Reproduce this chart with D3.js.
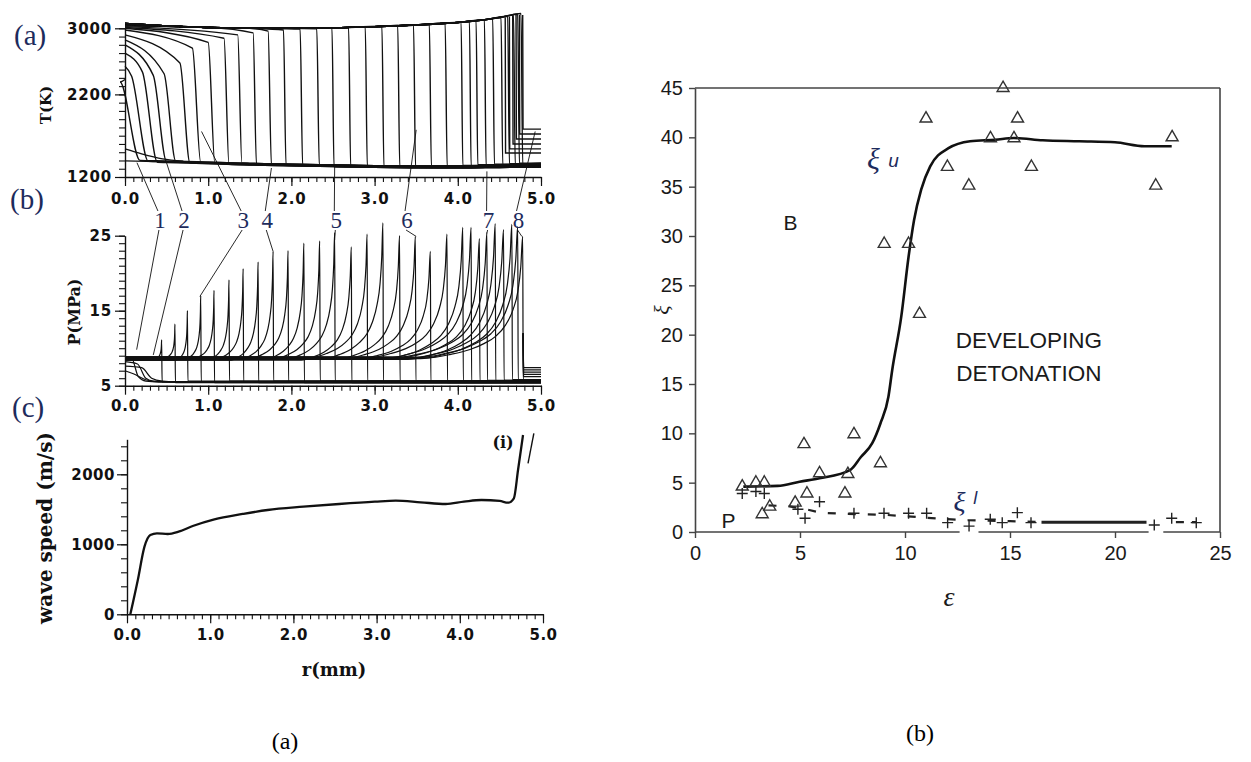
<!DOCTYPE html>
<html lang="en">
<head>
<meta charset="UTF-8" />
<title>Flame profiles and detonation regimes</title>
<style>
  body { margin: 0; background: #fff; }
  svg { display: block; }
</style>
<script src="https://d3js.org/d3.v7.min.js"></script>
</head>
<body>
<script>
// ---------- (a) temperature profiles: one curve per time step ----------
const tFront = [0.06, 0.18, 0.30, 0.42, 0.54, 0.72, 0.86, 1.04, 1.22, 1.38, 1.56, 1.74, 1.92, 2.12, 2.32, 2.50, 2.70,
                2.90, 3.10, 3.29, 3.48, 3.67, 3.86, 4.05, 4.15, 4.23, 4.33, 4.43, 4.53, 4.61, 4.68, 4.73, 4.77];
const tStart = [2380, 2540, 2700, 2800, 2860, 2920, 2980, 3000, 3010, 3020, 3030, 3035, 3040, 3040, 3045, 3045, 3050,
                3050, 3050, 3050, 3055, 3055, 3055, 3060, 3060, 3060, 3060, 3060, 3060, 3060, 3060, 3060, 3060];
const tTop   = [2350, 2420, 2470, 2430, 2450, 2580, 2760, 2830, 2880, 2920, 2945, 2965, 2980, 2990, 2995, 3000, 3005,
                3015, 3025, 3035, 3045, 3055, 3065, 3075, 3085, 3095, 3105, 3115, 3130, 3145, 3160, 3170, 3180];
const tDrop  = [0.12, 0.10, 0.09, 0.08, 0.07, 0.06, 0.05, 0.04, 0.03, 0.025, 0.02, 0.02, 0.015, 0.015, 0.015, 0.012, 0.012,
                0.012, 0.012, 0.012, 0.012, 0.012, 0.012, 0.01, 0.01, 0.01, 0.01, 0.01, 0.01, 0.01, 0.01, 0.01, 0.01];
const tLift  = [10, 0, -10, 0, 10, -5, 5, 0, -10, 10, 0, -5, 5, 0, 10, -10, 0, 5, -5, 10, 0, 15, 5, 20, 10, 25, 15,
                30, 20, 35, 25, 40, 30];
// upper envelope of the burnt gas and the unburnt baseline
const envR  = [1.0, 1.5, 2.0, 2.5, 3.0, 3.5, 4.0, 4.3, 4.5, 4.7];
const envT  = [3010, 3000, 3000, 3005, 3020, 3040, 3070, 3100, 3130, 3170];
const tBaseR = [0, 0.5, 1, 1.5, 2, 2.5, 3, 3.5, 4, 4.5, 5];
const tBaseT = [1395, 1385, 1370, 1355, 1345, 1335, 1328, 1322, 1320, 1325, 1330];
const tInitR = [0, 0.2, 0.45, 0.7];
const tInitT = [1540, 1480, 1420, 1392];
// late profiles with shocked unburnt gas (steps at the right edge)
const tPostR = [4.57, 4.62, 4.66, 4.70, 4.74, 4.78];
const tPostT = [1490, 1540, 1600, 1660, 1720, 1780];

// ---------- (b) pressure profiles ----------
const pFront = [0.44, 0.60, 0.75, 0.91, 1.07, 1.25, 1.42, 1.60, 1.78, 1.96, 2.15, 2.34, 2.52, 2.72, 2.91, 3.10, 3.30,
                3.49, 3.67, 3.87, 4.06, 4.16, 4.26, 4.35, 4.45, 4.55, 4.65, 4.72, 4.78];
const pPeak  = [11.1, 13.2, 15.0, 17.0, 17.7, 19.1, 20.6, 21.5, 22.9, 23.0, 24.0, 24.3, 25.4, 23.5, 25.2, 26.7, 25.0,
                24.9, 22.9, 25.2, 26.1, 26.1, 24.6, 25.4, 26.6, 25.8, 26.5, 26.2, 24.9];
const pRise  = [0.10, 0.12, 0.14, 0.17, 0.20, 0.24, 0.28, 0.32, 0.36, 0.40, 0.45, 0.50, 0.55, 0.60, 0.65, 0.70, 0.75,
                0.80, 0.85, 0.90, 0.95, 1.00, 1.00, 1.05, 1.05, 1.10, 1.10, 1.15, 1.15];
const pBase  = [8.5, 8.7, 8.4, 8.6, 8.8, 8.5, 8.7, 8.4, 8.6, 8.8, 8.5, 8.7, 8.6, 8.4, 8.8, 8.6, 8.5, 8.7, 8.6, 8.8,
                8.5, 8.7, 8.6, 8.8, 8.5, 8.7, 8.6, 8.8, 8.7];
const pFoot  = [5.5, 5.4, 5.6, 5.5, 5.4, 5.6, 5.5, 5.4, 5.6, 5.5, 5.4, 5.6, 5.5, 5.4, 5.6, 5.5, 5.4, 5.6, 5.5, 5.4,
                5.6, 5.5, 5.6, 5.7, 5.6, 5.7, 5.8, 5.7, 5.8];
// normalised shape of the pressure rise behind a front (distance/width, fraction of jump)
const pShapeU = [1, 0.75, 0.55, 0.4, 0.28, 0.18, 0.1, 0.05, 0.02, 0];
const pShapeV = [0, 0.03, 0.07, 0.12, 0.18, 0.27, 0.4, 0.55, 0.75, 1];
// earliest profiles, before any spike
const pEarly = [
  [[0, 8.9], [0.08, 8.7], [0.16, 6.2], [0.25, 5.6], [0.4, 5.5]],
  [[0, 8.2], [0.15, 7.9], [0.25, 6.0], [0.35, 5.6], [0.5, 5.5]],
  [[0, 7.6], [0.2, 7.4], [0.32, 6.0], [0.45, 5.6], [0.6, 5.5]],
  [[0, 7.0], [0.1, 6.6], [0.25, 5.8], [0.4, 5.5]]
];
const pPost = [7.4, 7.1, 6.8, 6.5, 6.2];

// ---------- numbered leaders between (a) and (b) ----------
const leadNum = ["1", "2", "3", "4", "5", "6", "7", "8"];
const leadR   = [0.42, 0.71, 1.42, 1.71, 2.54, 3.39, 4.37, 4.73];
const leadTR  = [0.144, 0.50, 0.92, 1.76, 2.52, 3.50, 4.35, 4.93];
const leadTT  = [1373, 1370, 1751, 1309, 1325, 1771, 1268, 1751];
const leadPR  = [0.14, 0.34, 0.90, 1.78, 2.52, 3.50, 4.35, 4.77];
const leadPP  = [9.8, 9.1, 16.9, 22.9, 24.4, 24.9, 25.3, 24.9];

// ---------- (c) wave speed ----------
const wsR = [0.04, 0.13, 0.21, 0.28, 0.36, 0.49, 0.62, 0.79, 1.05, 1.39, 1.69, 2.12, 2.55, 2.98, 3.23, 3.53, 3.83,
             4.05, 4.26, 4.48, 4.58, 4.65, 4.70, 4.76];
const wsV = [0, 490, 966, 1133, 1157, 1147, 1180, 1261, 1357, 1433, 1490, 1537, 1576, 1609, 1623, 1600, 1576,
             1609, 1633, 1619, 1594, 1657, 2061, 2561];
const wsTailR = [4.82, 4.89];
const wsTailV = [2157, 2586];

// ---------- right chart: xi vs epsilon ----------
const triE = [14.67, 11.0, 15.36, 14.07, 15.19, 22.72, 12.02, 16.02, 13.04, 21.94, 9.01, 10.17, 10.69,
              5.19, 7.57, 8.83, 5.93, 7.28, 2.25, 2.9, 3.3, 5.33, 7.14, 4.77, 3.56, 3.2];
const triX = [45.0, 41.9, 41.9, 39.9, 39.9, 40.0, 37.0, 37.0, 35.1, 35.1, 29.2, 29.2, 22.1,
              8.9, 9.9, 6.97, 5.95, 5.88, 4.6, 5.0, 5.0, 3.9, 3.9, 2.97, 2.57, 1.8];
const crossE = [2.25, 3.3, 2.9, 5.93, 5.24, 4.9, 7.57, 9.0, 10.17, 11.03, 12.03, 13.05, 14.06, 14.63, 15.35, 16.0,
                21.87, 22.7, 23.87];
const crossX = [3.9, 3.9, 4.1, 3.07, 1.39, 2.3, 1.9, 1.9, 1.9, 1.9, 0.95, 0.6, 1.29, 0.95, 1.96, 0.95,
                0.71, 1.39, 0.95];
const xiUE = [2.3, 3.94, 4.98, 5.93, 7.4, 7.9, 8.44, 8.83, 9.21, 9.39, 9.82, 10.17, 10.43, 10.77, 11.2, 12.07,
              13.1, 14.3, 15.18, 16.56, 18.3, 20.0, 21.4, 22.7];
const xiUX = [4.6, 4.67, 5.1, 5.44, 6.3, 7.6, 9.0, 11.0, 13.7, 16.4, 21.8, 27.9, 31.6, 34.7, 37.05, 38.9,
              39.6, 39.76, 39.93, 39.7, 39.6, 39.5, 39.1, 39.1];
const xiLE = [3.5, 4.5, 5.3, 6.0, 7.0, 8.0, 9.0, 10.0, 11.0, 12.0, 13.0, 14.0, 15.0, 16.5];
const xiLX = [2.7, 2.6, 2.3, 1.95, 1.85, 1.8, 1.75, 1.6, 1.45, 1.3, 1.2, 1.15, 1.1, 1.0];
const xiLSolidE = [16.5, 21.5];
const xiLTailE = [22.9, 23.9];
const xiLLevel = 1.0;
const axisSegs = [[0, 12.6], [13.5, 21.6], [22.3, 25]];

const W = 1251, H = 762;
const svg = d3.select("body").append("svg").attr("width", W).attr("height", H);
svg.append("rect").attr("width", W).attr("height", H).attr("fill", "#fff");

const xL = d3.scaleLinear().domain([0, 5]).range([125, 541]);
const yT = d3.scaleLinear().domain([1200, 3000]).range([177, 28.3]);
const yP = d3.scaleLinear().domain([5, 25]).range([385.7, 235.7]);
const xC = d3.scaleLinear().domain([0, 5]).range([127, 543]);
const yC = d3.scaleLinear().domain([0, 2500]).range([614.3, 439.3]);
const xR = d3.scaleLinear().domain([0, 25]).range([695, 1220]);
const yR = d3.scaleLinear().domain([0, 45]).range([532, 88]);

const ink = "#111";
const navy = "#1d2b5c";
const sans = "'DejaVu Sans', sans-serif";
const serif = "'Liberation Serif', 'Times New Roman', serif";
const arial = "'Liberation Sans', Arial, sans-serif";

const rMinor = d3.range(0, 51).map(i => i / 10);
const rMajor = [0, 1, 2, 3, 4, 5];

function leftAxes(xs, ys, yMinor, yMajor, st) {
  const bottom = ys.range()[0], left = xs.range()[0];
  svg.append("g").attr("transform", `translate(0,${bottom})`)
    .call(d3.axisBottom(xs).tickValues(rMinor).tickSize(5).tickSizeOuter(0).tickFormat(""))
    .call(g => g.select(".domain").remove())
    .call(g => g.selectAll("line").attr("stroke", ink).attr("stroke-width", 1.1));
  const gx = svg.append("g").attr("transform", `translate(0,${bottom})`)
    .call(d3.axisBottom(xs).tickValues(rMajor).tickSize(9).tickSizeOuter(0)
      .tickPadding(st.xPad).tickFormat(d3.format(".1f")));
  svg.append("g").attr("transform", `translate(${left},0)`)
    .call(d3.axisLeft(ys).tickValues(yMinor).tickSize(6).tickSizeOuter(0).tickFormat(""))
    .call(g => g.select(".domain").remove())
    .call(g => g.selectAll("line").attr("stroke", ink).attr("stroke-width", 1.1));
  const gy = svg.append("g").attr("transform", `translate(${left},0)`)
    .call(d3.axisLeft(ys).tickValues(yMajor).tickSize(10).tickSizeOuter(0)
      .tickPadding(st.yPad).tickFormat(st.yFmt));
  [gx, gy].forEach(g => {
    g.select(".domain").attr("stroke", ink).attr("stroke-width", 1.4);
    g.selectAll(".tick line").attr("stroke", ink).attr("stroke-width", 1.2);
    g.selectAll(".tick text").attr("font-family", sans).attr("font-size", st.size)
      .attr("font-weight", "bold").attr("letter-spacing", st.ls).attr("fill", ink);
  });
}

// ---------------- (a) temperature ----------------
const base = d3.scaleLinear().domain(tBaseR).range(tBaseT);
const env = d3.scaleLinear().domain(envR).range(envT).clamp(true);
const lineT = d3.line().x(d => xL(d[0])).y(d => yT(d[1])).curve(d3.curveMonotoneX);
const gT = svg.append("g").attr("fill", "none").attr("stroke", ink).attr("stroke-width", 1.4);

gT.append("path").attr("d", lineT(tBaseR.map((r, i) => [r, tBaseT[i]])));
gT.append("path").attr("d", lineT(tInitR.map((r, i) => [r, tInitT[i]])));

tFront.forEach((f, i) => {
  const d = tDrop[i], lift = tLift[i];
  const pts = [[0, tStart[i]]];
  if (f > 1.5) envR.filter(r => r < f - 0.12).forEach(r => pts.push([r, env(r)]));
  pts.push([f - d, tTop[i]]);
  pts.push([f + d, base(f + d) + lift]);
  tBaseR.filter(r => r > f + d + 0.05).forEach(r => pts.push([r, base(r) + lift]));
  gT.append("path").attr("d", lineT(pts));
});

tPostR.forEach((r, i) => {
  gT.append("path").attr("d", d3.line().x(d => xL(d[0])).y(d => yT(d[1]))(
    [[r, env(r) - 10], [r + 0.004, tPostT[i]], [5, tPostT[i]]]));
});

leftAxes(xL, yT, d3.range(1200, 3001, 100), [1200, 2200, 3000],
  { xPad: 7, yPad: 3, size: 15, ls: 0.8, yFmt: d3.format("d") });

// ---------------- (b) pressure ----------------
const lineP = d3.line().x(d => xL(d[0])).y(d => yP(d[1])).curve(d3.curveMonotoneX);
const gP = svg.append("g").attr("fill", "none").attr("stroke", ink).attr("stroke-width", 1.2);

pEarly.forEach(c => gP.append("path").attr("d", lineP(c.concat([[5, 5.5]]))));

pFront.forEach((f, i) => {
  const w = pRise[i];
  const pts = [[0, pBase[i]]];
  pShapeU.forEach((u, k) => pts.push([f - u * w, pBase[i] + pShapeV[k] * (pPeak[i] - pBase[i])]));
  pts.push([f + 0.006, pFoot[i]], [5, pFoot[i]]);
  gP.append("path").attr("d", lineP(pts));
});

pPost.forEach(v => {
  gP.append("path").attr("d", d3.line().x(d => xL(d[0])).y(d => yP(d[1]))(
    [[4.785, 12], [4.79, v], [5, v]]));
});

leftAxes(xL, yP, d3.range(5, 26, 1), [5, 15, 25],
  { xPad: 6, yPad: 3, size: 15, ls: 0.8, yFmt: d3.format("d") });

// ---------------- leaders 1..8 ----------------
const gLead = svg.append("g");
leadNum.forEach((n, i) => {
  const lx = xL(leadR[i]);
  gLead.append("line").attr("x1", lx - 2).attr("y1", 211)
    .attr("x2", xL(leadTR[i])).attr("y2", yT(leadTT[i]))
    .attr("stroke", ink).attr("stroke-width", 0.9);
  gLead.append("line").attr("x1", lx - 1).attr("y1", 230)
    .attr("x2", xL(leadPR[i])).attr("y2", yP(leadPP[i]))
    .attr("stroke", ink).attr("stroke-width", 0.9);
  gLead.append("text").attr("x", lx).attr("y", 228).attr("text-anchor", "middle")
    .attr("font-family", serif).attr("font-size", 23).attr("fill", navy).text(n);
});

// ---------------- (c) wave speed ----------------
const lineC = d3.line().x(d => xC(d[0])).y(d => yC(d[1])).curve(d3.curveMonotoneX);
svg.append("path").attr("d", lineC(wsR.map((r, i) => [r, wsV[i]])))
  .attr("fill", "none").attr("stroke", ink).attr("stroke-width", 2.3);
svg.append("path").attr("d", d3.line().x(d => xC(d[0])).y(d => yC(d[1]))(wsTailR.map((r, i) => [r, wsTailV[i]])))
  .attr("fill", "none").attr("stroke", ink).attr("stroke-width", 1.4);
svg.append("text").attr("x", xC(4.52)).attr("y", yC(2466) + 6).attr("text-anchor", "middle")
  .attr("font-family", "'DejaVu Serif', serif").attr("font-weight", "bold").attr("font-size", 16)
  .attr("fill", ink).text("(i)");

leftAxes(xC, yC, d3.range(0, 2401, 200), [0, 1000, 2000],
  { xPad: 6, yPad: 2, size: 15, ls: 0.5, yFmt: d3.format("d") });

// axis titles on the left
svg.append("text").attr("transform", "translate(51,105) rotate(-90)").attr("text-anchor", "middle")
  .attr("font-family", "'DejaVu Serif', serif").attr("font-weight", "bold").attr("font-size", 15)
  .attr("fill", ink).text("T(K)");
svg.append("text").attr("transform", "translate(80,312) rotate(-90)").attr("text-anchor", "middle")
  .attr("font-family", "'DejaVu Serif', serif").attr("font-weight", "bold").attr("font-size", 16)
  .attr("fill", ink).text("P(MPa)");
svg.append("text").attr("transform", "translate(52,528) rotate(-90)").attr("text-anchor", "middle")
  .attr("font-family", "'DejaVu Serif', serif").attr("font-weight", "bold").attr("font-size", 20)
  .attr("fill", ink).text("wave speed (m/s)");
svg.append("text").attr("x", 334).attr("y", 676).attr("text-anchor", "middle")
  .attr("font-family", "'DejaVu Serif', serif").attr("font-weight", "bold").attr("font-size", 18)
  .attr("fill", ink).text("r(mm)");

[["(a)", 14, 45], ["(b)", 10, 209], ["(c)", 12, 417]].forEach(([t, x, y]) => {
  svg.append("text").attr("x", x).attr("y", y).attr("font-family", serif).attr("font-size", 29)
    .attr("fill", navy).text(t);
});

// ---------------- right chart ----------------
const gR = svg.append("g");
const frame = "#444";
gR.append("g").attr("transform", `translate(${xR(0)},0)`)
  .call(d3.axisLeft(yR).tickValues(d3.range(0, 46, 5)).tickSize(6).tickSizeOuter(0).tickPadding(6))
  .call(g => {
    g.select(".domain").attr("stroke", frame).attr("stroke-width", 1.6);
    g.selectAll(".tick line").attr("stroke", frame).attr("stroke-width", 1.4);
    g.selectAll(".tick text").attr("font-family", arial).attr("font-size", 20).attr("fill", "#1a1a1a");
  });
gR.append("g").attr("transform", `translate(0,${yR(0)})`)
  .call(d3.axisBottom(xR).tickValues(d3.range(0, 26, 5)).tickSize(6).tickSizeOuter(0).tickPadding(8))
  .call(g => {
    g.select(".domain").remove();
    g.selectAll(".tick line").attr("stroke", frame).attr("stroke-width", 1.4);
    g.selectAll(".tick text").attr("font-family", arial).attr("font-size", 20).attr("fill", "#1a1a1a");
  });
axisSegs.forEach(s => gR.append("line").attr("x1", xR(s[0])).attr("x2", xR(s[1]))
  .attr("y1", yR(0)).attr("y2", yR(0)).attr("stroke", frame).attr("stroke-width", 1.6));
gR.append("line").attr("x1", xR(0)).attr("x2", xR(25)).attr("y1", yR(45)).attr("y2", yR(45))
  .attr("stroke", frame).attr("stroke-width", 1.6);
gR.append("line").attr("x1", xR(25)).attr("x2", xR(25)).attr("y1", yR(45)).attr("y2", yR(0))
  .attr("stroke", frame).attr("stroke-width", 1.6);

// xi_l dashed line and its solid part
const lineR = d3.line().x(d => xR(d[0])).y(d => yR(d[1]));
gR.append("path").attr("d", lineR(xiLE.map((e, i) => [e, xiLX[i]])))
  .attr("fill", "none").attr("stroke", "#222").attr("stroke-width", 2.2).attr("stroke-dasharray", "8,12");
gR.append("path").attr("d", lineR(xiLSolidE.map(e => [e, xiLLevel])))
  .attr("fill", "none").attr("stroke", "#222").attr("stroke-width", 3);
gR.append("path").attr("d", lineR(xiLTailE.map(e => [e, xiLLevel])))
  .attr("fill", "none").attr("stroke", "#222").attr("stroke-width", 2.2).attr("stroke-dasharray", "8,8");

// xi_u curve
gR.append("path").attr("d", lineR.curve(d3.curveMonotoneX)(xiUE.map((e, i) => [e, xiUX[i]])))
  .attr("fill", "none").attr("stroke", ink).attr("stroke-width", 2.6);

// markers
gR.selectAll("path.tri").data(triE).join("path").attr("class", "tri")
  .attr("transform", (e, i) => `translate(${xR(e)},${yR(triX[i])})`)
  .attr("d", d3.symbol(d3.symbolTriangle, 62))
  .attr("fill", "none").attr("stroke", "#333").attr("stroke-width", 1.4);
gR.selectAll("path.cross").data(crossE).join("path").attr("class", "cross")
  .attr("d", (e, i) => {
    const cx = xR(e), cy = yR(crossX[i]);
    return `M${cx - 5.5},${cy}H${cx + 5.5}M${cx},${cy - 5.5}V${cy + 5.5}`;
  })
  .attr("fill", "none").attr("stroke", "#222").attr("stroke-width", 1.4);

// labels inside the right chart
const txt = (x, y, s, font, size, extra) => {
  const t = gR.append("text").attr("x", x).attr("y", y).attr("font-family", font)
    .attr("font-size", size).attr("fill", "#1a1a1a").attr("text-anchor", "middle").text(s);
  if (extra) extra(t);
  return t;
};
txt(xR(4.55), yR(31.3) + 7, "B", arial, 21);
txt(xR(15.9), yR(19.5) + 8, "DEVELOPING", arial, 22.5);
txt(xR(15.9), yR(16.1) + 8, "DETONATION", arial, 22.5);
txt(xR(1.6), yR(1.1) + 7, "P", arial, 21);
txt(xR(8.5), yR(37.5) + 7, "ξ", serif, 30, t => t.attr("font-style", "italic").attr("fill", navy));
txt(xR(9.45), yR(37.5) + 5, "u", arial, 19, t => t.attr("font-style", "italic").attr("fill", navy));
txt(xR(12.6), yR(2.87) + 7, "ξ", serif, 28, t => t.attr("font-style", "italic").attr("fill", navy));
txt(xR(13.35), yR(3.3) + 5, "l", arial, 18, t => t.attr("font-style", "italic").attr("fill", navy));
gR.append("text").attr("transform", `translate(${xR(0) - 26},${yR(22.5)}) rotate(-90)`)
  .attr("text-anchor", "middle").attr("font-family", serif).attr("font-style", "italic")
  .attr("font-size", 22).attr("fill", "#1a1a1a").text("ξ");
txt(xR(12.1), 606, "ε", serif, 28, t => t.attr("font-style", "italic"));

// captions
txt(285, 749, "(a)", serif, 24, t => t.attr("fill", "#000"));
txt(920, 741, "(b)", serif, 24, t => t.attr("fill", "#000"));
</script>
</body>
</html>
